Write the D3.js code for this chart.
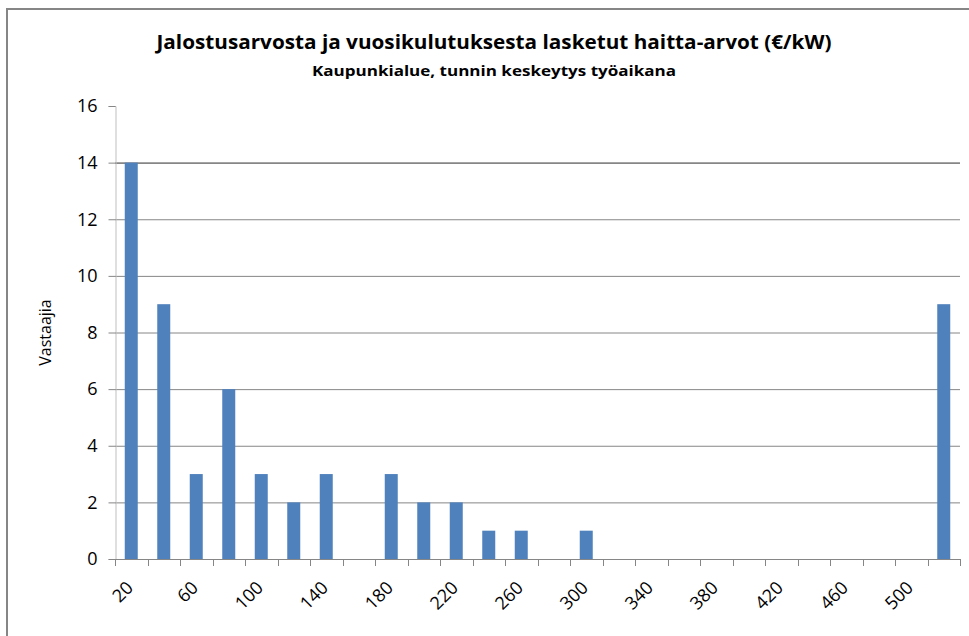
<!DOCTYPE html>
<html>
<head>
<meta charset="utf-8">
<script src="https://cdn.jsdelivr.net/npm/d3@7"></script>
<style>
  body { margin: 0; background: #fff; }
  text { font-family: "Open Sans", sans-serif; fill: #000; }
</style>
</head>
<body>
<svg id="chart"></svg>
<script>
// Categories (€/kW class upper bounds) and respondent counts
const categories = ['20', '40', '60', '80', '100', '120', '140', '160', '180', '200',
  '220', '240', '260', '280', '300', '320', '340', '360', '380', '400',
  '420', '440', '460', '480', '500', 'yli 500'];
const counts = [14, 9, 3, 6, 3, 2, 3, 0, 3, 2, 2, 1, 1, 0, 1, 0, 0, 0, 0, 0, 0, 0, 0, 0, 0, 9];
const yTicks = [0, 2, 4, 6, 8, 10, 12, 14, 16];

const titleText = 'Jalostusarvosta ja vuosikulutuksesta lasketut haitta-arvot (€/kW)';
const subtitleText = 'Kaupunkialue, tunnin keskeytys työaikana';
const yLabel = 'Vastaajia';

const width = 969;
const height = 636;
const plot = { left: 115, right: 960, top: 106, bottom: 559 };

const svg = d3.select('#chart')
  .attr('width', width)
  .attr('height', height);

// Outer frame (only top and left visible)
svg.append('path')
  .attr('d', `M7,636 V9 H969`)
  .attr('fill', 'none')
  .attr('stroke', '#868686')
  .attr('stroke-width', 2);

const x = d3.scaleBand()
  .domain(categories)
  .range([plot.left, plot.right])
  .paddingInner(0.6)
  .paddingOuter(0.3);

const y = d3.scaleLinear()
  .domain([0, 16])
  .range([plot.bottom, plot.top]);

// Gridlines
svg.append('g')
  .selectAll('line')
  .data(yTicks.filter(d => d > 0 && d < 16))
  .join('line')
  .attr('x1', plot.left)
  .attr('x2', plot.right)
  .attr('y1', d => y(d) + 0.5)
  .attr('y2', d => y(d) + 0.5)
  .attr('stroke', '#868686')
  .attr('stroke-width', d => d === 14 ? 1.6 : 1);

// Bars
svg.append('g')
  .selectAll('rect')
  .data(counts)
  .join('rect')
  .attr('x', (d, i) => x(categories[i]))
  .attr('y', d => y(d))
  .attr('width', x.bandwidth())
  .attr('height', d => y(0) - y(d))
  .attr('fill', '#4F81BD');

// Y axis
const yAxis = svg.append('g')
  .attr('transform', `translate(${plot.left + 0.5},0)`)
  .call(d3.axisLeft(y).tickValues(yTicks).tickSize(7).tickPadding(11));
yAxis.select('.domain').attr('stroke', '#BFBFBF');
yAxis.selectAll('.tick line').attr('stroke', '#868686');
yAxis.selectAll('.tick text')
  .attr('font-size', 18)
  .attr('font-family', '"Open Sans", sans-serif');

// X axis: ticks on category boundaries
const step = x.step();
const boundaries = d3.range(categories.length + 1).map(i => plot.left + i * step);
const xAxisG = svg.append('g');
xAxisG.append('line')
  .attr('x1', plot.left)
  .attr('x2', plot.right)
  .attr('y1', plot.bottom + 0.5)
  .attr('y2', plot.bottom + 0.5)
  .attr('stroke', '#868686');
xAxisG.selectAll('line.tick')
  .data(boundaries)
  .join('line')
  .attr('class', 'tick')
  .attr('x1', d => Math.round(d) + 0.5)
  .attr('x2', d => Math.round(d) + 0.5)
  .attr('y1', plot.bottom)
  .attr('y2', plot.bottom + 7)
  .attr('stroke', '#868686');

// X labels (every other category)
xAxisG.selectAll('text')
  .data(categories.filter((d, i) => i % 2 === 0 && i < 25))
  .join('text')
  .attr('transform', d => `translate(${x(d) + x.bandwidth() / 2 + 3},${plot.bottom + 30}) rotate(-45)`)
  .attr('text-anchor', 'end')
  .attr('font-size', 18)
  .text(d => d);

// Titles
svg.append('text')
  .attr('x', 494)
  .attr('y', 49)
  .attr('text-anchor', 'middle')
  .attr('font-size', 19)
  .attr('font-weight', 'bold')
  .attr('textLength', 675)
  .attr('lengthAdjust', 'spacingAndGlyphs')
  .text(titleText);

svg.append('text')
  .attr('x', 494)
  .attr('y', 76)
  .attr('text-anchor', 'middle')
  .attr('font-size', 14)
  .attr('font-weight', 'bold')
  .attr('textLength', 364)
  .attr('lengthAdjust', 'spacingAndGlyphs')
  .text(subtitleText);

// Y axis title
svg.append('text')
  .attr('transform', `translate(51,${(plot.top + plot.bottom) / 2}) rotate(-90)`)
  .attr('text-anchor', 'middle')
  .attr('font-size', 16)
  .text(yLabel);
</script>
</body>
</html>
